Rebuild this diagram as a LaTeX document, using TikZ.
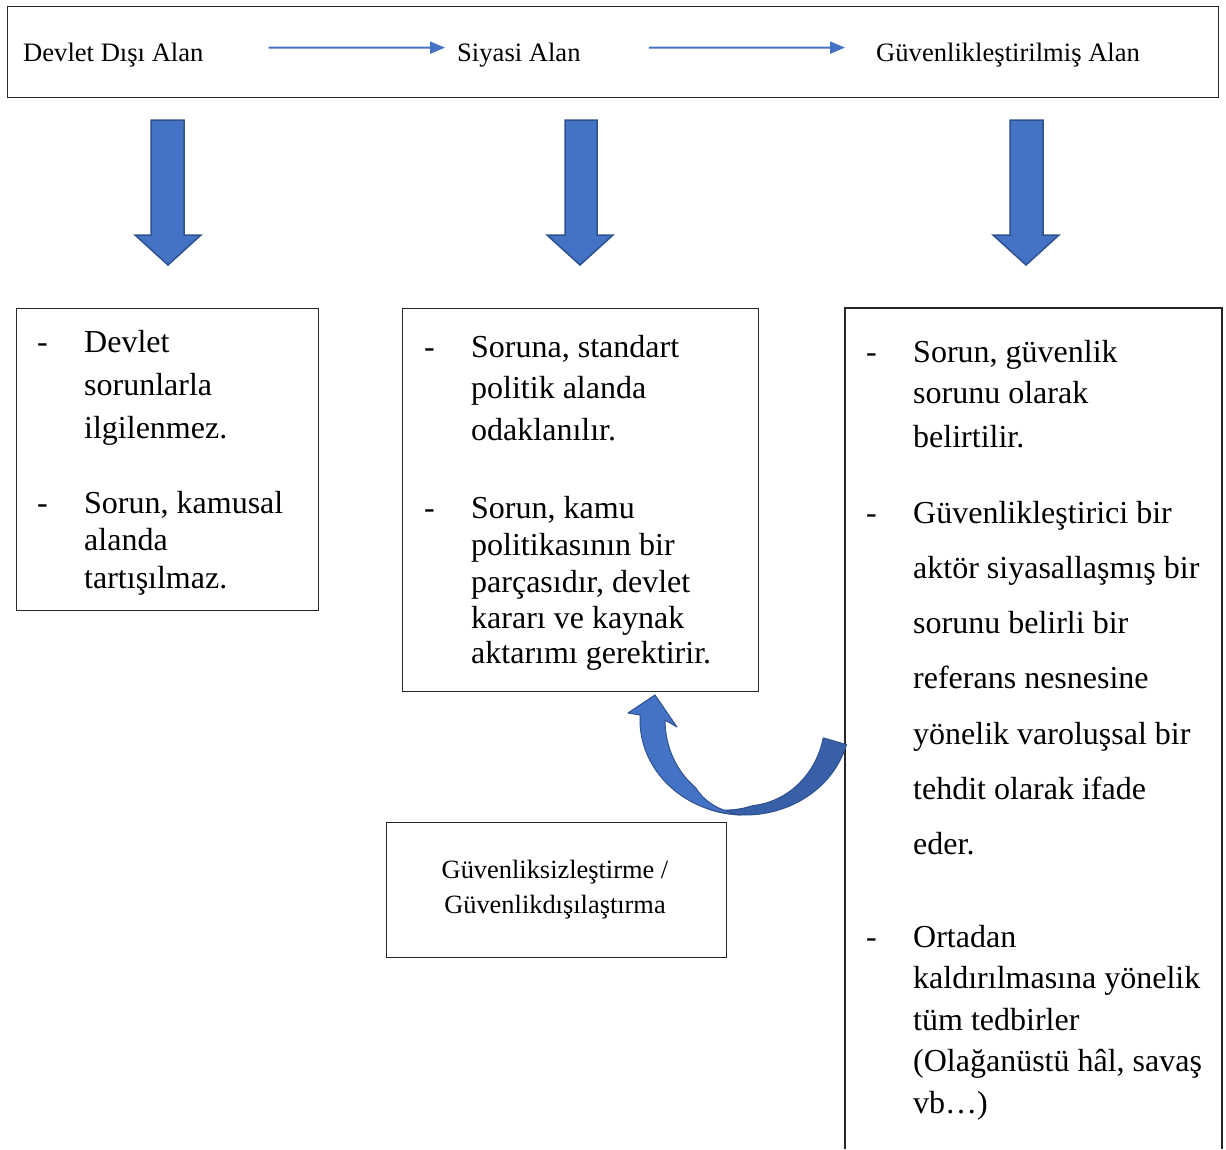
\documentclass[tikz,border=0pt]{standalone}
\usepackage{fontspec}
\setmainfont{Liberation Serif}
\usetikzlibrary{arrows.meta}
\definecolor{ablue}{HTML}{4472C4}
\definecolor{adark}{HTML}{2F528F}
\definecolor{ashade}{HTML}{3760A8}
\begin{document}
\begin{tikzpicture}[x=1pt,y=-1pt,
  frame/.style={draw=black!85, line width=1.2pt, inner sep=0pt, anchor=north west},
  toptxt/.style={anchor=base west, inner sep=0pt, font=\fontsize{26.6}{30}\selectfont},
  boxtxt/.style={anchor=base, inner sep=0pt, font=\fontsize{26.4}{30}\selectfont},
  bodytxt/.style={anchor=base west, inner sep=0pt, font=\fontsize{32}{38}\selectfont},
  toparr/.style={draw=ablue, line width=2pt, -{Triangle[length=15pt,width=12pt]}},
  blockarr/.style={fill=ablue, draw=adark, line width=1.5pt, line join=miter},
  curvearr/.style={draw=adark, line width=1pt, line join=round}]
\useasboundingbox (0,0) rectangle (1226,1149);
\fill[white] (0,0) rectangle (1226,1149);

% top box
\node[frame, minimum width=1211pt, minimum height=91pt] (top) at (7,6) {};
\node[toptxt] (t1) at (23,61) {Devlet Dışı Alan};
\node[toptxt] (t2) at (457,61) {Siyasi Alan};
\node[toptxt] (t3) at (876,61) {Güvenlikleştirilmiş Alan};
\draw[toparr, shorten <=65pt, shorten >=12pt] ([yshift=7pt]t1.east) -- ([yshift=7pt]t2.west);
\draw[toparr, shorten <=68pt, shorten >=31pt] ([yshift=7pt]t2.east) -- ([yshift=7pt]t3.west);

% block arrows
\draw[blockarr] (151,120) -- (184,120) -- (184,235) -- (201,235) -- (168,265) -- (135,235) -- (151,235) -- cycle;
\draw[blockarr] (565,120) -- (597,120) -- (597,235) -- (613,235) -- (580,265) -- (547,235) -- (565,235) -- cycle;
\draw[blockarr] (1010,120) -- (1043,120) -- (1043,235) -- (1059,235) -- (1026,265) -- (993,235) -- (1010,235) -- cycle;

% left box
\node[frame, minimum width=302pt, minimum height=302pt] (b1) at (16,308) {};
\node[bodytxt] (d11) at (37,352) {-};
\node[bodytxt] (d12) at (37,513) {-};
\foreach \y/\t [count=\i] in {352/Devlet, 395/sorunlarla, 438/ilgilenmez., 513/{Sorun, kamusal}, 550/alanda, 588/tartışılmaz.}
  {\node[bodytxt] (l\i) at (84,\y) {\t};}

% middle box
\node[frame, minimum width=356pt, minimum height=383pt] (b2) at (402,308) {};
\node[bodytxt] (d21) at (424,357) {-};
\node[bodytxt] (d22) at (424,518) {-};
\foreach \y/\t [count=\i] in {357/{Soruna, standart}, 398/politik alanda, 440/odaklanılır., 518/{Sorun, kamu}, 555/politikasının bir, 592/{parçasıdır, devlet}, 628/kararı ve kaynak, 663/aktarımı gerektirir.}
  {\node[bodytxt] (m\i) at (471,\y) {\t};}

% right box (runs past the bottom edge)
\draw[draw=black!85, line width=1.2pt] (845,1149) -- (845,308) -- (1222,308) -- (1222,1149);
\node[bodytxt] (d31) at (866,362) {-};
\node[bodytxt] (d32) at (866,523) {-};
\node[bodytxt] (d33) at (866,947) {-};
\foreach \y/\t [count=\i] in {362/{Sorun, güvenlik}, 403/sorunu olarak, 447/belirtilir., 523/Güvenlikleştirici bir, 578/aktör siyasallaşmış bir, 633/sorunu belirli bir, 688/referans nesnesine, 744/yönelik varoluşsal bir, 799/tehdit olarak ifade, 854/eder., 947/Ortadan, 988/kaldırılmasına yönelik, 1030/tüm tedbirler, 1071/{(Olağanüstü hâl, savaş}, 1113/vb…)}
  {\node[bodytxt] (r\i) at (913,\y) {\t};}

% bottom middle box
\node[frame, minimum width=340pt, minimum height=135pt] (b4) at (386,822) {};
\node[boxtxt] (g1) at (555,878) {Güvenliksizleştirme /};
\node[boxtxt] (g2) at (555,913) {Güvenlikdışılaştırma};

% curved arrow (back face, darker)
\filldraw[curvearr, fill=ashade]
  plot[domain=15:110, samples=50] ({745+105*cos(\x)}, {720+95*sin(\x)})
  -- plot[domain=110:12, samples=50] ({745+(80+25*max(0,min(1,(\x-85)/25)))*cos(\x)}, {720+(86+9*max(0,min(1,(\x-85)/25)))*sin(\x)})
  -- cycle;
% curved arrow (front face with head)
\filldraw[curvearr, fill=ablue]
  (655,695) -- (677,727) -- (665,720)
  -- plot[domain=180:92, samples=50] ({745+(80+25*max(0,min(1,(128-\x)/36)))*cos(\x)}, {720+(86+9*max(0,min(1,(128-\x)/36)))*sin(\x)})
  -- plot[domain=92:183, samples=50] ({745+105*cos(\x)}, {720+95*sin(\x)})
  -- (628,713) -- cycle;
\end{tikzpicture}
\end{document}
